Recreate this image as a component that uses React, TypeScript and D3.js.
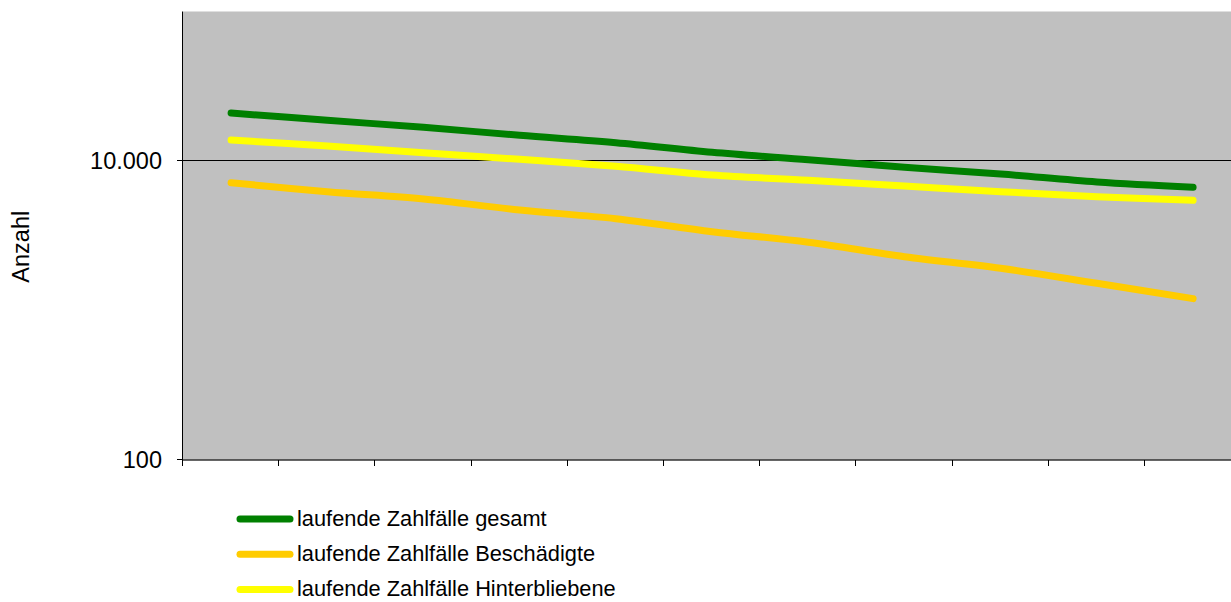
import React from "react";
import * as d3 from "d3";

const categories = ["1", "2", "3", "4", "5", "6", "7", "8", "9", "10", "11"];
const gesamt = [20940, 18720, 16800, 14860, 13260, 11440, 10200, 9075, 8185, 7240, 6670];
const beschaedigte = [7160, 6230, 5570, 4700, 4110, 3365, 2860, 2290, 1915, 1520, 1200];
const hinterbliebene = [13820, 12600, 11360, 10260, 9215, 8060, 7430, 6805, 6230, 5770, 5460];
const yTicks = [100, 10000];
const seriesNames = [
  "laufende Zahlfälle gesamt",
  "laufende Zahlfälle Beschädigte",
  "laufende Zahlfälle Hinterbliebene",
];
const seriesColors = ["#008000", "#FFCC00", "#FFFF00"];

const W = 1231;
const H = 602;
const left = 183;
const top = 11.5;
const bottom = 460;
const band = 96.2;

export default function App() {
  const x = d3
    .scaleBand<string>()
    .domain(categories)
    .range([left, left + band * categories.length])
    .paddingInner(0)
    .paddingOuter(0);
  const y = d3.scaleLog().domain([100, 100000]).range([bottom, top]);
  const fmt = (v: number) => d3.format(",")(v).replace(/,/g, ".");
  const line = d3
    .line<number>()
    .x((_, i) => (x(categories[i]) as number) + x.bandwidth() / 2)
    .y((d) => y(d))
    .curve(d3.curveCatmullRom.alpha(0));
  const series = [gesamt, beschaedigte, hinterbliebene];
  const xTickPos = d3.range(categories.length + 1).map((i) =>
    i < categories.length ? (x(categories[i]) as number) : left + band * categories.length
  );
  const font = "'Liberation Sans', Arial, sans-serif";
  const crisp = (v: number) => Math.round(v) + 0.5;
  return (
    <svg
      width={W}
      height={H}
      style={{ position: "absolute", left: 0, top: 0, display: "block", background: "#fff" }}
    >
      <rect x={left} y={top} width={W - left} height={bottom - top} fill="#C0C0C0" />
      {yTicks.map((t) =>
        t !== 100 ? (
          <line
            key={"g" + t}
            x1={left}
            x2={W}
            y1={crisp(y(t)) - 1}
            y2={crisp(y(t)) - 1}
            stroke="#000"
            strokeWidth={1}
          />
        ) : null
      )}
      {series.map((s, k) => (
        <path
          key={k}
          d={line(s) as string}
          fill="none"
          stroke={seriesColors[k]}
          strokeWidth={7}
          strokeLinecap="round"
          strokeLinejoin="round"
        />
      ))}
      <line x1={crisp(left) - 1} x2={crisp(left) - 1} y1={top} y2={bottom} stroke="#000" strokeWidth={1} />
      <line x1={left} x2={W} y1={bottom} y2={bottom} stroke="#333" strokeWidth={1.5} />
      {xTickPos.map((p, i) => (
        <line
          key={"xt" + i}
          x1={crisp(p) - 1}
          x2={crisp(p) - 1}
          y1={bottom}
          y2={bottom + 6}
          stroke="#000"
          strokeWidth={1}
        />
      ))}
      {yTicks.map((t) => (
        <g key={"yt" + t}>
          <line
            x1={left - 6}
            x2={left}
            y1={crisp(y(t)) - 1}
            y2={crisp(y(t)) - 1}
            stroke="#000"
            strokeWidth={1}
          />
          <text
            x={left - 21}
            y={y(t)}
            dy="0.35em"
            textAnchor="end"
            fontFamily={font}
            fontSize={23.5}
            fill="#000"
          >
            {fmt(t)}
          </text>
        </g>
      ))}
      <text
        transform={`translate(29,${(top + bottom) / 2 + 11}) rotate(-90)`}
        textAnchor="middle"
        fontFamily={font}
        fontSize={23.5}
        fill="#000"
      >
        Anzahl
      </text>
      {seriesNames.map((n, k) => {
        const ly = 519 + k * 35.3;
        return (
          <g key={"lg" + k}>
            <line x1={240} x2={290} y1={ly} y2={ly} stroke={seriesColors[k]} strokeWidth={7} strokeLinecap="round" />
            <text x={297} y={ly} dy="0.3em" fontFamily={font} fontSize={21.8} fill="#000">
              {n}
            </text>
          </g>
        );
      })}
    </svg>
  );
}
